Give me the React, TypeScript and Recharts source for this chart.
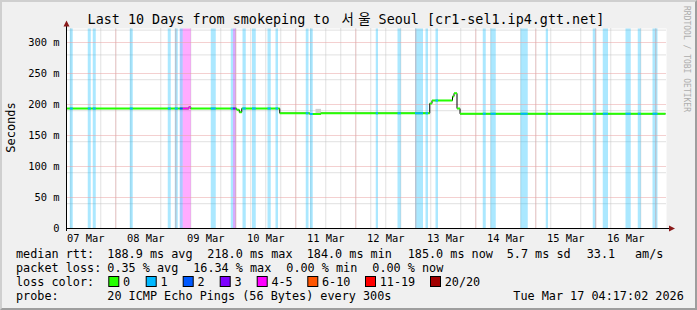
import React from 'react';
import {
    ComposedChart,
    Line,
    XAxis,
    YAxis,
    CartesianGrid,
    ReferenceArea,
    ReferenceLine
} from 'recharts';

const FONT = '"DejaVu Sans Mono", "Noto Sans CJK KR", monospace';

// x values are hours since the window start (Sat Mar 07 04:17:02), y in seconds
const rttHours = [0, 48.9, 49.7, 68.1, 69.1, 70.1, 85.3, 97.3, 101.7, 145.3, 146.2, 154.4, 155.0, 156.2, 157.4, 239.6];
const rttMedian = [0.1935, 0.1955, 0.1935, 0.1915, 0.1876, 0.1935, 0.186, 0.1845, 0.186, 0.2016, 0.2065, 0.213, 0.218, 0.1935, 0.185, 0.185];

// [from hour, to hour, loss colour index]
const lossBands = [
    [1.3, 2.5, 1], [8.5, 9.7, 1], [10.5, 11.7, 1], [25.3, 26.5, 1], [40.5, 41.7, 1], [43.3, 44.5, 1],
    [45.3, 46.5, 2], [46.5, 49.7, 4], [57.7, 59.7, 1], [65.7, 66.6, 1], [66.6, 67.7, 3],
    [70.4, 71.7, 1], [74.2, 75.7, 1], [80.4, 81.7, 1], [83.6, 84.6, 1], [95.7, 96.8, 1], [97.4, 98.5, 1],
    [123.7, 124.6, 1], [132.4, 133.7, 1], [139.4, 142.6, 1], [143.6, 144.6, 1], [147.6, 148.6, 1],
    [166.5, 167.7, 1], [169.6, 171.7, 1], [181.6, 184.5, 1], [191.7, 192.6, 1], [210.5, 211.7, 1],
    [214.5, 216.6, 1], [223.6, 225.7, 1], [228.5, 229.7, 1], [234.4, 236.4, 1],
];

// [from hour, to hour, low, high]
const smoke = [[99.6, 101.8, 0.1855, 0.193]];

const dayTickHours = [7.716, 31.716, 55.716, 79.716, 103.716, 127.716, 151.716, 175.716, 199.716, 223.716];
const dayTickLabels = ['07 Mar', '08 Mar', '09 Mar', '10 Mar', '11 Mar', '12 Mar', '13 Mar', '14 Mar', '15 Mar', '16 Mar'];
const midnightHours = [19.716, 43.716, 67.716, 91.716, 115.716, 139.716, 163.716, 187.716, 211.716, 235.716];
const yTicks = [0, 0.05, 0.1, 0.15, 0.2, 0.25, 0.3];
const Y_TOP = 0.3226;

const lossLabels = ['0', '1', '2', '3', '4-5', '6-10', '11-19', '20/20'];
const lossColors = ['#26ff00', '#00b8ff', '#0059ff', '#7e00ff', '#ff00ff', '#ff5500', '#ff0000', '#a10000'];
const rttStats = ['188.9 ms avg', '218.0 ms max', '184.0 ms min', '185.0 ms now', '5.7 ms sd', '33.1', 'am/s'];
const lossStats = ['0.35 % avg', '16.34 % max', '0.00 % min', '0.00 % now'];

// minor grid every 6 h and every 10 ms
const minorX: number[] = [];
for (let h = 1.716; h < 240; h += 6) minorX.push(h);
const minorY: number[] = [];
for (let i = 1; i * 0.01 <= Y_TOP; i++) if (i % 5 !== 0) minorY.push(i * 0.01);

const rttAt = (h: number) => {
    let v = rttMedian[0];
    rttHours.forEach((t, i) => { if (t <= h) v = rttMedian[i]; });
    return v;
};

// horizontal pieces split at each step, with a null row between them
const piecesToData = (pieces: number[][]) => {
    const out: { h: number; v: number | null }[] = [];
    pieces.forEach(([a, b, v]) => {
        out.push({ h: a, v }, { h: b, v }, { h: b, v: null });
    });
    return out;
};

const stepData = rttHours.map((h, i) => ({ h, v: rttMedian[i] }));
const greenData = piecesToData(rttHours.slice(0, -1).map((h, i) => [h, rttHours[i + 1], rttMedian[i]]));

const lossData = lossColors.map((_, k) => {
    const pieces: number[][] = [];
    lossBands.filter(b => b[2] === k).forEach(([s, e]) => {
        const cuts = [s, ...rttHours.filter(h => h > s && h < e), e];
        for (let i = 0; i < cuts.length - 1; i++) pieces.push([cuts[i], cuts[i + 1], rttAt(cuts[i])]);
    });
    return piecesToData(pieces);
});

const fmtY = (v: number) => (v === 0 ? '0' : `${Math.round(v * 1000)} m`);

const App: React.FC = () => {
    const W = 697;
    const H = 310;
    const FS = 11.8;
    const rowY = [258.3, 272.3, 286.3, 300];
    const rttX = [107.3, 207.3, 306.7, 407.7, 506.7, 586.7, 635];
    const lossX = [107.3, 193.2, 286.3, 372.3];
    const boxX = [108.3, 145.7, 182.7, 219.7, 256.7, 307.3, 365, 430];

    return (
        <div style={{ position: 'absolute', left: 0, top: 0, width: W, height: H, fontFamily: FONT }}>
            <div style={{
                position: 'absolute', left: 0, top: 0, width: W, height: H, boxSizing: 'border-box',
                background: '#f0f0f0', borderTop: '2px solid #cfcfcf', borderLeft: '2px solid #cfcfcf',
                borderRight: '2px solid #9e9e9e', borderBottom: '2px solid #9e9e9e'
            }} />
            <div style={{ position: 'absolute', left: 0, top: 0 }}>
                <ComposedChart width={W} height={H} margin={{ top: 28.5, right: 30.5, bottom: 61.5, left: 0 }}>
                    <CartesianGrid fill="#ffffff" stroke="#c2c2c2" strokeDasharray="1 1"
                        horizontalValues={minorY} verticalValues={minorX} />
                    <XAxis type="number" dataKey="h" domain={[0, 240]} ticks={dayTickHours} allowDataOverflow
                        tickFormatter={(v: number) => dayTickLabels[dayTickHours.indexOf(v)]}
                        height={20} tickLine={false} tickSize={4} tickMargin={2}
                        axisLine={{ stroke: '#000' }} tick={{ fill: '#000', fontSize: 10.4, fontFamily: FONT }} />
                    <YAxis type="number" domain={[0, Y_TOP]} ticks={yTicks} allowDataOverflow width={66.5}
                        tickFormatter={fmtY} tickLine={false} tickSize={5} tickMargin={2}
                        axisLine={{ stroke: '#000' }} tick={{ fill: '#000', fontSize: 10.4, fontFamily: FONT }} />
                    {lossBands.map(([s, e, k], i) => (
                        <ReferenceArea key={`b${i}`} x1={s} x2={e} y1={0} y2={Y_TOP}
                            fill={lossColors[k]} fillOpacity={0.33} stroke="none" />
                    ))}
                    {smoke.map(([s, e, lo, hi], i) => (
                        <ReferenceArea key={`s${i}`} x1={s} x2={e} y1={lo} y2={hi}
                            fill="#cfcfcf" fillOpacity={1} stroke="none" />
                    ))}
                    {midnightHours.map(h => (
                        <ReferenceLine key={`mx${h}`} x={h} stroke="#e8a0a0" strokeDasharray="1 1" />
                    ))}
                    {yTicks.slice(1).map(v => (
                        <ReferenceLine key={`my${v}`} y={v} stroke="#e8a0a0" strokeDasharray="1 1" />
                    ))}
                    <Line data={stepData} dataKey="v" type="stepAfter" stroke="#000" strokeWidth={1}
                        dot={false} isAnimationActive={false} />
                    <Line data={greenData} dataKey="v" type="linear" stroke={lossColors[0]} strokeWidth={2}
                        dot={false} connectNulls={false} isAnimationActive={false} />
                    {lossData.map((d, k) => (k > 0 && d.length > 0 ? (
                        <Line key={`l${k}`} data={d} dataKey="v" type="linear" stroke={lossColors[k]} strokeWidth={2}
                            dot={false} connectNulls={false} isAnimationActive={false} />
                    ) : null))}
                </ComposedChart>
            </div>
            <svg width={W} height={H} style={{ position: 'absolute', left: 0, top: 0, pointerEvents: 'none' }}
                fontFamily={FONT}>
                <text x={87.6} y={24} fontSize={13.4} fill="#000">
                    <tspan>Last 10 Days from smokeping to</tspan>
                    <tspan dx={12}>서</tspan>
                    <tspan dx={4.5}>울</tspan>
                    <tspan dx={8}>Seoul [cr1-sel1.ip4.gtt.net]</tspan>
                </text>
                <text transform="translate(684,6) rotate(90)" fontSize={8} fill="#adadad">RRDTOOL / TOBI OETIKER</text>
                <text transform="translate(15,127.5) rotate(-90)" fontSize={12} textAnchor="middle" fill="#000">Seconds</text>
                {/* axis arrows */}
                <line x1={66.5} y1={25} x2={66.5} y2={29} stroke="#000" />
                <line x1={66.5} y1={228} x2={66.5} y2={231} stroke="#000" />
                <line x1={666} x2={670} y1={228.5} y2={228.5} stroke="#000" />
                <polygon points="66.5,20.5 63.5,26.5 69.5,26.5" fill="#8a1a1a" />
                <polygon points="675,228.5 669,225.5 669,231.5" fill="#8a1a1a" />

                <text x={16} y={rowY[0]} fontSize={FS}>median rtt:</text>
                {rttStats.map((s, i) => <text key={s} x={rttX[i]} y={rowY[0]} fontSize={FS}>{s}</text>)}
                <text x={16} y={rowY[1]} fontSize={FS}>packet loss:</text>
                {lossStats.map((s, i) => <text key={s} x={lossX[i]} y={rowY[1]} fontSize={FS}>{s}</text>)}
                <text x={16} y={rowY[2]} fontSize={FS}>loss color:</text>
                {lossLabels.map((s, i) => (
                    <g key={s}>
                        <rect x={boxX[i] + 0.5} y={276.5} width={10} height={10} fill={lossColors[i]} stroke="#000" />
                        <text x={boxX[i] + 14.7} y={rowY[2]} fontSize={FS}>{s}</text>
                    </g>
                ))}
                <text x={16} y={rowY[3]} fontSize={FS}>probe:</text>
                <text x={107.3} y={rowY[3]} fontSize={FS}>20 ICMP Echo Pings (56 Bytes) every 300s</text>
                <text x={513.3} y={rowY[3]} fontSize={FS}>Tue Mar 17 04:17:02 2026</text>
            </svg>
        </div>
    );
};

export default App;
